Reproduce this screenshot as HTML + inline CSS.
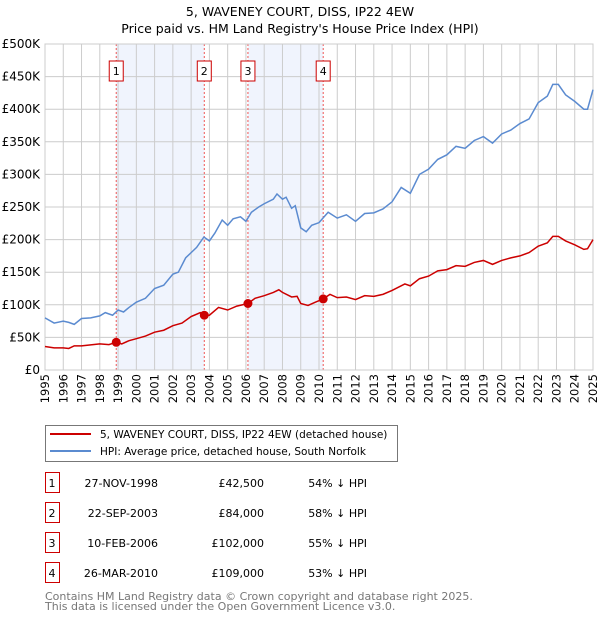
<!DOCTYPE html>
<html><head><meta charset="utf-8"><style>
body{margin:0;background:#fff;font-family:"Liberation Sans","DejaVu Sans",sans-serif;}
svg text{font-family:"DejaVu Sans","Liberation Sans",sans-serif;}
</style></head><body>
<svg id="chart" width="600" height="620" viewBox="0 0 600 620" xmlns="http://www.w3.org/2000/svg">
<text x="300" y="16" text-anchor="middle" font-size="12.5">5, WAVENEY COURT, DISS, IP22 4EW</text>
<text x="300" y="33" text-anchor="middle" font-size="12.5">Price paid vs. HM Land Registry's House Price Index (HPI)</text>
<g id="plot"></g>
<g>
<rect x="45.5" y="425.5" width="352" height="36" fill="#fff" stroke="#777"/>
<line x1="50" y1="434" x2="91" y2="434" stroke="#cc0000" stroke-width="2"/>
<text x="100" y="438" font-size="10.5">5, WAVENEY COURT, DISS, IP22 4EW (detached house)</text>
<line x1="50" y1="451" x2="91" y2="451" stroke="#5b8bd0" stroke-width="2"/>
<text x="100" y="455" font-size="10.5">HPI: Average price, detached house, South Norfolk</text>
</g>
<g id="table"></g>
<text x="45" y="600" font-size="11" fill="#777">Contains HM Land Registry data © Crown copyright and database right 2025.</text>
<text x="45" y="610" font-size="11" fill="#777">This data is licensed under the Open Government Licence v3.0.</text>
</svg>
<script>
const hpiYears=[1995,1995.5,1996,1996.3,1996.6,1997,1997.5,1998,1998.3,1998.7,1999,1999.3,1999.6,2000,2000.5,2001,2001.5,2002,2002.3,2002.7,2003,2003.3,2003.7,2004,2004.3,2004.7,2005,2005.3,2005.7,2006,2006.3,2006.7,2007,2007.5,2007.7,2008,2008.2,2008.5,2008.7,2009,2009.3,2009.6,2010,2010.5,2011,2011.5,2012,2012.5,2013,2013.5,2014,2014.5,2015,2015.5,2016,2016.5,2017,2017.5,2018,2018.5,2019,2019.5,2020,2020.5,2021,2021.5,2022,2022.5,2022.8,2023.1,2023.5,2024,2024.5,2024.7,2025];
const hpiValues=[80,72,75,73,70,79,80,83,88,84,92,89,96,104,110,125,130,147,150,172,180,188,204,198,210,230,222,232,235,228,242,250,255,262,270,262,265,248,252,218,212,222,226,242,233,238,228,240,241,247,258,280,271,300,308,323,330,343,340,352,358,348,362,368,378,385,410,420,438,438,422,412,400,400,430];
const priceYears=[1995,1995.5,1996,1996.3,1996.6,1997,1998,1998.5,1998.9,1999.2,1999.6,2000,2000.5,2001,2001.5,2002,2002.5,2003,2003.5,2003.72,2004,2004.5,2005,2005.5,2006.11,2006.5,2007,2007.5,2007.8,2008,2008.5,2008.8,2009,2009.4,2009.8,2010.23,2010.6,2011,2011.5,2012,2012.5,2013,2013.5,2014,2014.7,2015,2015.5,2016,2016.5,2017,2017.5,2018,2018.5,2019,2019.5,2020,2020.5,2021,2021.5,2022,2022.5,2022.8,2023.1,2023.5,2024,2024.5,2024.7,2025];
const priceValues=[36,34,34,33,37,37,40,39,42.5,40,45,48,52,58,61,68,72,82,88,84,84,96,92,98,102,110,114,119,123,119,112,113,102,99,104,109,116,111,112,108,114,113,116,122,132,129,140,144,152,154,160,159,165,168,162,168,172,175,180,190,195,205,205,198,192,185,186,200];
const saleLabels=["1","2","3","4"];
const saleYears=[1998.9,2003.72,2006.11,2010.23];
const salePrices=[42.5,84,102,109];
const saleDates=["27-NOV-1998","22-SEP-2003","10-FEB-2006","26-MAR-2010"];
const salePriceText=["£42,500","£84,000","£102,000","£109,000"];
const saleHpiText=["54% ↓ HPI","58% ↓ HPI","55% ↓ HPI","53% ↓ HPI"];
const yTickValues=[0,50,100,150,200,250,300,350,400,450,500];
const yTickLabels=["£0","£50K","£100K","£150K","£200K","£250K","£300K","£350K","£400K","£450K","£500K"];
const xTickYears=[1995,1996,1997,1998,1999,2000,2001,2002,2003,2004,2005,2006,2007,2008,2009,2010,2011,2012,2013,2014,2015,2016,2017,2018,2019,2020,2021,2022,2023,2024,2025];

const X0=45,X1=593,Y0=370,Y1=44;
const xs=y=>X0+(y-1995)/30*(X1-X0);
const ys=v=>Y0-v/500*(Y0-Y1);
const NS="http://www.w3.org/2000/svg";
const plot=document.getElementById('plot');
function mk(tag,attrs,parent){const e=document.createElementNS(NS,tag);for(const k in attrs)e.setAttribute(k,attrs[k]);(parent||plot).appendChild(e);return e;}

for(let i=0;i<saleYears.length;i+=2){
  const r=mk('rect',{x:xs(saleYears[i]),y:Y1,width:xs(saleYears[i+1])-xs(saleYears[i]),height:Y0-Y1,fill:'#f0f4fd'});
  
  
}
xTickYears.forEach(yr=>{
  const l=mk('line',{x1:xs(yr),x2:xs(yr),y1:Y1,y2:Y0,stroke:'#cccccc','stroke-width':1});
  
  
  const t=mk('text',{x:0,y:0,'font-size':11.5,'text-anchor':'end',transform:`translate(${xs(yr)+4},374) rotate(-90)`});
  t.textContent=yr;
  
  
});
yTickValues.forEach((v,i)=>{
  const l=mk('line',{x1:X0,x2:X1,y1:ys(v),y2:ys(v),stroke:'#cccccc','stroke-width':1});
  
  
  const t=mk('text',{x:40,y:ys(v)+4,'font-size':12,'text-anchor':'end'});
  t.textContent=yTickLabels[i];
  
  
});
saleYears.forEach((yr,i)=>{
  const l=mk('line',{x1:xs(yr),x2:xs(yr),y1:Y1,y2:Y0,stroke:'#ee5555','stroke-width':1,'stroke-dasharray':'2,2'});
  
  
  const b=mk('rect',{x:xs(yr)-7,y:61,width:14,height:20,fill:'#fff',stroke:'#cc0000','stroke-width':1});
  
  
  const t=mk('text',{x:xs(yr),y:75,'font-size':11,'text-anchor':'middle'});
  t.textContent=saleLabels[i];
  
  
});
const bd=mk('rect',{x:X0,y:Y1,width:X1-X0,height:Y0-Y1,fill:'none',stroke:'#cccccc'});


const hp=mk('polyline',{points:hpiYears.map((y,i)=>xs(y)+','+ys(hpiValues[i])).join(' '),fill:'none',stroke:'#5b8bd0','stroke-width':1.5});


const pp=mk('polyline',{points:priceYears.map((y,i)=>xs(y)+','+ys(priceValues[i])).join(' '),fill:'none',stroke:'#cc0000','stroke-width':1.5});


saleYears.forEach((yr,i)=>{
  const c=mk('circle',{cx:xs(yr),cy:ys(salePrices[i]),r:4.5,fill:'#cc0000'});
  
  
});
const tb=document.getElementById('table');
saleLabels.forEach((lab,i)=>{
  const yy=483+i*30;
  const b=mk('rect',{x:45.5,y:yy-10.5,width:14,height:20,fill:'#fff',stroke:'#cc0000'},tb);
  
  
  const cells=[[52,'middle',lab],[158,'end',saleDates[i]],[264,'end',salePriceText[i]],[367,'end',saleHpiText[i]]];
  cells.forEach(([x,a,s])=>{
    const t=mk('text',{x:x,y:yy+4,'font-size':11,'text-anchor':a},tb);
    t.textContent=s;
    
    
  });
});
</script>
</body></html>
